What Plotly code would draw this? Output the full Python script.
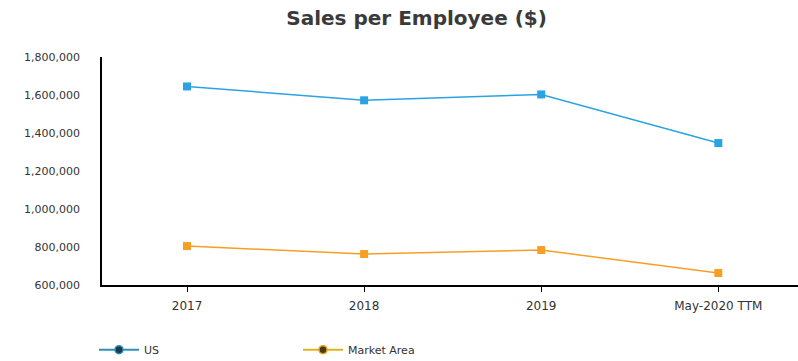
import plotly.graph_objects as go

categories = ["2017", "2018", "2019", "May-2020 TTM"]
us_values = [1645000, 1572000, 1603000, 1347000]
market_values = [805000, 763000, 784000, 663000]
y_ticks = [600000, 800000, 1000000, 1200000, 1400000, 1600000, 1800000]

blue = "#2BA3E3"
orange = "#F5A025"

fig = go.Figure()
fig.add_trace(go.Scatter(x=categories, y=us_values, mode="lines+markers", name="US",
                         line=dict(color=blue, width=1.5),
                         marker=dict(symbol="square", size=8, color=blue),
                         showlegend=False))
fig.add_trace(go.Scatter(x=categories, y=market_values, mode="lines+markers", name="Market Area",
                         line=dict(color=orange, width=1.5),
                         marker=dict(symbol="square", size=8, color=orange),
                         showlegend=False))
# legend entries
fig.add_trace(go.Scatter(x=[None], y=[None], mode="lines+markers", name="US",
                         line=dict(color="#2E8FB8", width=2),
                         marker=dict(symbol="circle", size=8, color="#1B3A4B",
                                     line=dict(color="#2E8FB8", width=1.5))))
fig.add_trace(go.Scatter(x=[None], y=[None], mode="lines+markers", name="Market Area",
                         line=dict(color="#E2B21C", width=2),
                         marker=dict(symbol="circle", size=8, color="#4A3A10",
                                     line=dict(color="#E2A21C", width=1.5))))

fig.update_layout(
    width=798, height=361,
    margin=dict(l=102, r=0, t=57, b=76, autoexpand=False),
    paper_bgcolor="white", plot_bgcolor="white",
    font=dict(family="DejaVu Sans", size=11, color="#333333"),
    title=dict(text="<b>Sales per Employee ($)</b>", x=0.522, xanchor="center",
               y=0.95, yanchor="middle", font=dict(size=20, color="#3a3a3a")),
    xaxis=dict(type="category", range=[-0.48, 3.45], showline=True, linecolor="black",
               linewidth=1.5, ticks="outside", ticklen=5, tickcolor="black",
               showgrid=False, zeroline=False, tickfont=dict(size=12),
               ticklabelstandoff=4),
    yaxis=dict(range=[600000, 1800000], tickvals=y_ticks, tickformat=",d",
               showline=True, linecolor="black", linewidth=1.5, ticks="",
               showgrid=False, zeroline=False, ticklabelstandoff=18,
               tickfont=dict(size=11)),
    legend=dict(orientation="h", x=-0.0115, xanchor="left", y=-0.22, yanchor="top",
                entrywidth=149, entrywidthmode="pixels", itemwidth=40,
                font=dict(size=11, color="#333333")),
)

fig.write_html("out.html")
